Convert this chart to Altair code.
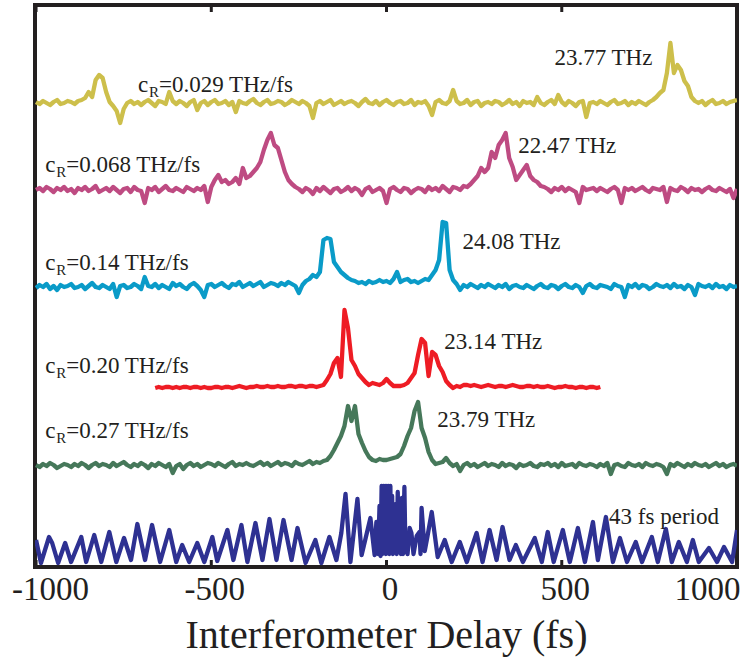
import altair as alt
import pandas as pd

# ---- delay grid (fs) shared by the five chirped-pump traces ----
delay_grid = list(range(-1000, 1001, 10))

# trace deviations from their own baseline (arbitrary units, 1 unit ~ 1 px)
trace_0029 = [
    1, -1, 2, 0, -2, 1, 3, -1, 0, 2,
    1, -1, 2, 3, 5, 11, 6, 23, 28, 25,
    11, 1, -3, -8, -20, -6, 0, 2, -1, 1,
    -2, 1, 3, 0, -3, 2, 1, -1, 11, 2,
    -1, 2, 0, -3, 1, 3, -7, 0, 2, -2,
    1, 3, -1, 0, 2, -2, 1, -9, 2, 0,
    -1, 2, 4, 0, -2, 1, 3, -1, 0, 2,
    1, -2, 0, 3, 1, -1, 2, 0, -3, -15,
    0, 2, -1, 1, 3, -2, 0, 2, -1, 1,
    2, 0, -3, 1, 4, 0, -1, 2, -2, 1,
    3, 0, -2, 1, 2, -1, 0, 3, -2, 1,
    0, 2, -3, -12, 1, 3, 0, -1, 2, 13,
    2, -1, 0, 3, -2, 1, 2, -3, 0, 1,
    -1, 2, 1, -2, 0, 3, -1, 1, -3, 2,
    0, 1, -2, 6, 0, -2, 1, 3, -1, 8,
    1, -2, 2, 0, -3, 1, 2, -14, 0, 1,
    -1, 2, 0, -2, 1, 3, -1, 0, 2, -2,
    1, -1, 2, 0, -2, 1, 3, 6, 10, 13,
    30, 60, 30, 38, 33, 22, 17, 6, 2, 0,
    2, -2, 1, 3, -1, 0, 2, -1, 1, 2,
    3,
]

trace_0068 = [
    0, 2, -1, 3, 1, -2, 2, 0, 3, -1,
    1, -3, 2, 0, 3, -1, 1, 4, -2, 0,
    2, -1, 3, 0, -3, 1, 2, -2, 3, 0,
    -1, -13, 2, 0, 3, -2, 1, 4, 0, -1,
    2, 0, -2, 3, 1, -1, 2, 0, 4, -12,
    3, 10, 15, 8, 10, 6, 8, 12, 6, 22,
    12, 14, 18, 22, 28, 40, 50, 57, 45, 42,
    30, 18, 10, 6, 3, 1, -2, 2, 0, -4,
    2, -1, 3, 0, -3, 1, 2, -2, 0, 3,
    -1, 2, 0, -5, 1, 3, -2, 0, 2, -1,
    -13, 1, 3, 0, -2, 2, 1, -3, 0, 2,
    1, -2, 3, 0, 2, -1, 4, 1, -2, 3,
    2, 0, 4, 3, 6, 10, 14, 22, 18, 22,
    38, 32, 45, 50, 57, 32, 23, 10, 15, 20,
    25, 14, 10, 8, 4, 3, 1, -2, 2, 0,
    3, -1, 2, 0, -2, -13, 3, 0, 1, 2,
    -1, 2, 0, -2, 1, 3, 0, -13, 2, 0,
    2, -1, 1, 3, 0, -2, 2, 1, 0, 3,
    -12, 2, 0, -1, 3, 1, -2, 2, 0, 1,
    -2, 1, 3, 0, -1, 2, 0, -2, 1, -8,
    1,
]

trace_014 = [
    -1, 2, 0, 3, -2, 1, -3, 2, 0, 1,
    3, -1, 0, 2, -2, 1, 4, 0, -1, 2,
    0, -2, 3, -10, 1, 2, -1, 0, 3, 1,
    -2, 10, 1, 0, 3, -1, 2, 0, -2, 4,
    1, 3, 0, -2, 2, 4, 1, -3, -10, 2,
    3, 0, 2, 4, 1, -1, 3, 2, 5, 0,
    2, 4, 1, 3, 5, 0, 2, 4, 3, 1,
    4, 2, 5, 3, 1, -6, 2, 6, 8, 12,
    10, 15, 47, 49, 48, 25, 20, 15, 12, 9,
    7, 6, 4, 5, 3, 6, 4, 5, 7, 5,
    6, 4, 8, 15, 5, 7, 8, 5, 6, 4,
    6, 8, 7, 12, 17, 27, 65, 64, 17, 7,
    3, -3, 2, 0, 3, 1, -1, 2, 0, 3,
    1, -1, 2, 0, 3, -2, 1, 2, 0, -1,
    2, 0, -2, 1, 3, 0, -1, 2, 1, -2,
    1, 3, 0, -1, 2, 0, -6, 1, 3, 0,
    -1, 2, 1, 0, -2, 3, 1, 0, -10, 2,
    0, 3, -1, 2, 1, -2, 0, 3, 1, 0,
    2, -1, 3, 0, 1, -2, 2, 0, -8, 3,
    1, 0, 2, -1, 3, 0, 1, -2, 2, 0,
    1,
]

trace_027 = [
    1, -1, 2, 0, 3, 1, -2, 0, 2, 1,
    -1, 2, 0, 3, 1, -2, 1, 3, 0, 2,
    1, -1, 3, 0, 2, 4, 1, -1, 2, 0,
    3, 1, -2, 2, 0, 3, 1, -1, 2, -7,
    0, 2, -3, 1, 3, 0, 2, -1, 1, 3,
    2, 0, 3, 1, -1, 2, 4, 0, 2, 1,
    3, 1, 0, 2, 4, 1, 3, 0, 2, 4,
    1, 3, 2, 0, 4, 2, 1, 3, 5, 2,
    4, 3, 5, 6, 10, 16, 23, 30, 40, 60,
    45, 60, 32, 23, 15, 9, 6, 5, 7, 6,
    6, 7, 8, 9, 12, 20, 30, 38, 55, 64,
    38, 28, 14, 6, 2, 3, 4, 8, 3, 0,
    2, -5, 1, 3, 0, 2, -1, 1, 3, 0,
    2, 1, -1, 3, 0, 2, 1, -2, 2, 0,
    1, 3, 0, -1, 2, 1, 3, 0, 2, -1,
    3, 0, 1, 2, -1, 3, 1, 0, 2, 1,
    -1, 2, 0, 3, -8, 1, 2, 0, -1, 3,
    1, 0, 2, -1, 3, 1, 0, 2, 1, -1,
    -8, 2, 0, 3, 1, -1, 2, 0, 3, 1,
    0, 2, -1, 1, 3, 0, 2, -1, 1, 2,
    0,
]

# the 0.20 THz/fs scan covers a shorter delay range
delay_020 = list(range(-660, 611, 10))
trace_020 = [
    0, 1, 0, 1, 1, 0, 1, 0, 1, 1,
    0, 1, 1, 0, 1, 0, 0, 1, 1, 0,
    1, 1, 0, 1, 2, 1, 0, 1, 1, 2,
    1, 1, 2, 1, 1, 2, 1, 1, 2, 2,
    1, 2, 2, 1, 2, 2, 1, 2, 3, 8,
    14, 25, 30, 11, 78, 60, 28, 22, 14, 10,
    6, 3, 5, 4, 3, 5, 9, 5, 2, 2,
    2, 3, 5, 10, 15, 33, 49, 45, 12, 36,
    33, 22, 16, 7, 3, 0, 2, 1, 3, 3,
    2, 3, 2, 1, 2, 3, 2, 1, 2, 2,
    1, 2, 3, 2, 1, 1, 2, 2, 1, 2,
    1, 1, 2, 1, 0, 1, 1, 2, 1, 1,
    0, 1, 1, 0, 1, 1, 0, 1,
]

# bottom trace: interferometric autocorrelation (peaks and troughs)
ref_delay = [
    -1000, -986, -963, -954, -937, -917, -900, -871, -857, -834,
    -814, -791, -771, -749, -729, -711, -689, -669, -646, -620,
    -600, -583, -563, -540, -520, -497, -483, -454, -437, -414,
    -397, -374, -354, -334, -314, -294, -271, -254, -231, -203,
    -186, -163, -143, -129, -117, -103, -83, -71, -46, -34,
    -29, -24, -20, -17, -14, -12, -9, -7, -4, -2,
    1, 3, 6, 8, 11, 13, 16, 18, 21, 24,
    27, 29, 32, 35, 38, 41, 44, 47, 51, 54,
    57, 60, 66, 71, 77, 86, 94, 97, 100, 109,
    117, 129, 146, 166, 186, 209, 229, 257, 274, 294,
    314, 331, 351, 369, 389, 423, 443, 460, 477, 503,
    523, 546, 566, 589, 603, 626, 646, 666, 686, 711,
    729, 757, 774, 797, 814, 834, 857, 874, 891, 920,
    943, 963, 986, 1000,
]
ref_value = [
    26, 3, 29, 23, 3, 23, 4, 29, 4, 31,
    4, 34, 4, 28, 6, 42, 6, 41, 4, 36,
    4, 21, 4, 23, 4, 29, 5, 36, 6, 41,
    4, 43, 6, 47, 6, 46, 6, 38, 3, 26,
    3, 29, 6, 33, 72, 4, 67, 11, 48, 11,
    44, 12, 60, 10, 80, 12, 80, 14, 80, 12,
    80, 15, 80, 12, 80, 14, 70, 12, 55, 14,
    62, 12, 74, 15, 50, 12, 68, 12, 79, 14,
    30, 12, 38, 33, 12, 30, 34, 12, 58, 15,
    30, 54, 9, 26, 4, 24, 4, 33, 4, 36,
    6, 39, 6, 21, 4, 28, 4, 34, 4, 36,
    4, 38, 4, 44, 6, 49, 4, 28, 4, 24,
    4, 29, 4, 37, 4, 24, 4, 26, 4, 18,
    4, 19, 4, 36,
]

# vertical offsets of the stacked traces
trace_names = ["0.029", "0.068", "0.14", "0.20", "0.27", "ref"]
trace_offsets = [464, 377, 280, 179, 101, 1]
trace_colors = ["#CDBF4B", "#BE4B82", "#0A9BC8", "#EE1C24", "#46785A", "#2E3192"]

# annotation texts
cr_text = ["=0.029 THz/fs", "=0.068 THz/fs", "=0.14 THz/fs", "=0.20 THz/fs", "=0.27 THz/fs"]
cr_x = [-709, -974, -974, -974, -974]
cr_y = [475, 395, 297, 194, 129]

note_text = ["23.77 THz", "22.47 THz", "24.08 THz", "23.14 THz", "23.79 THz", "43 fs period"]
note_x = [479, 376, 217, 165, 145, 635]
note_y = [502, 414, 318, 218, 140, 43]

tick_values = [-1000, -500, 0, 500, 1000]

# ---- assemble long table ----
rows = []
series = [
    ("0.029", delay_grid, trace_0029),
    ("0.068", delay_grid, trace_0068),
    ("0.14", delay_grid, trace_014),
    ("0.20", delay_020, trace_020),
    ("0.27", delay_grid, trace_027),
    ("ref", ref_delay, ref_value),
]
for name, xs, ys in series:
    off = trace_offsets[trace_names.index(name)]
    for d, v in zip(xs, ys):
        rows.append({"delay": d, "value": v + off, "trace": name})
df = pd.DataFrame(rows)

cr_df = pd.DataFrame({"delay": cr_x, "value": cr_y, "text": cr_text})
note_df = pd.DataFrame({"delay": note_x, "value": note_y, "text": note_text})
tick_df = pd.DataFrame({"delay": tick_values})

FONT = "Liberation Serif"
INK = "#231F20"

x_scale = alt.Scale(domain=[-1003, 1000], nice=False, zero=False)
y_scale = alt.Scale(domain=[0, 562], nice=False, zero=False)

x_axis = alt.Axis(
    values=tick_values,
    labelExpr="datum.value < 0 ? '-' + abs(datum.value) : '' + datum.value",
    labelFont=FONT, labelFontSize=33, labelColor=INK,
    labelPadding=6, labelOverlap=False, labelFlush=False, labelBound=False,
    labelOffset={"condition": [
        {"test": "datum.value == -1000", "value": 14},
        {"test": "datum.value == 1000", "value": -30}],
        "value": 3},
    ticks=False, domain=False, grid=False,
    title="Interferometer Delay (fs)",
    titleFont=FONT, titleFontSize=40, titleFontWeight="normal",
    titleColor=INK, titlePadding=9,
)

lines = alt.Chart(df).mark_line(strokeWidth=4.3, clip=True, strokeJoin="round").encode(
    x=alt.X("delay:Q", scale=x_scale, axis=x_axis),
    y=alt.Y("value:Q", scale=y_scale, axis=None),
    color=alt.Color("trace:N", scale=alt.Scale(domain=trace_names, range=trace_colors), legend=None),
    order=alt.Order("delay:Q"),
)

top_ticks = alt.Chart(tick_df).mark_rule(color=INK, strokeWidth=3).encode(
    x=alt.X("delay:Q", scale=x_scale), y=alt.value(0), y2=alt.value(7))
bottom_ticks = alt.Chart(tick_df).mark_rule(color=INK, strokeWidth=3).encode(
    x=alt.X("delay:Q", scale=x_scale), y=alt.value(562), y2=alt.value(555))

cr_c = alt.Chart(cr_df).mark_text(
    font=FONT, fontSize=23, color=INK, align="left", baseline="alphabetic").encode(
    x=alt.X("delay:Q", scale=x_scale), y=alt.Y("value:Q", scale=y_scale), text=alt.value("c"))
cr_sub = alt.Chart(cr_df).mark_text(
    font=FONT, fontSize=15, color=INK, align="left", baseline="alphabetic", dx=11, dy=5).encode(
    x=alt.X("delay:Q", scale=x_scale), y=alt.Y("value:Q", scale=y_scale), text=alt.value("R"))
cr_rest = alt.Chart(cr_df).mark_text(
    font=FONT, fontSize=23, color=INK, align="left", baseline="alphabetic", dx=21).encode(
    x=alt.X("delay:Q", scale=x_scale), y=alt.Y("value:Q", scale=y_scale), text="text:N")
notes = alt.Chart(note_df).mark_text(
    font=FONT, fontSize=23, color=INK, align="left", baseline="alphabetic").encode(
    x=alt.X("delay:Q", scale=x_scale), y=alt.Y("value:Q", scale=y_scale), text="text:N")

chart = alt.layer(lines, top_ticks, bottom_ticks, cr_c, cr_sub, cr_rest, notes).properties(
    width=702, height=562,
    padding={"left": 35, "top": 5, "right": 18, "bottom": 92},
    autosize=alt.AutoSizeParams(type="none"),
    background="white",
).configure_view(stroke=INK, strokeWidth=4)

chart.save("out.html", embed_options={"renderer": "svg", "actions": False})
